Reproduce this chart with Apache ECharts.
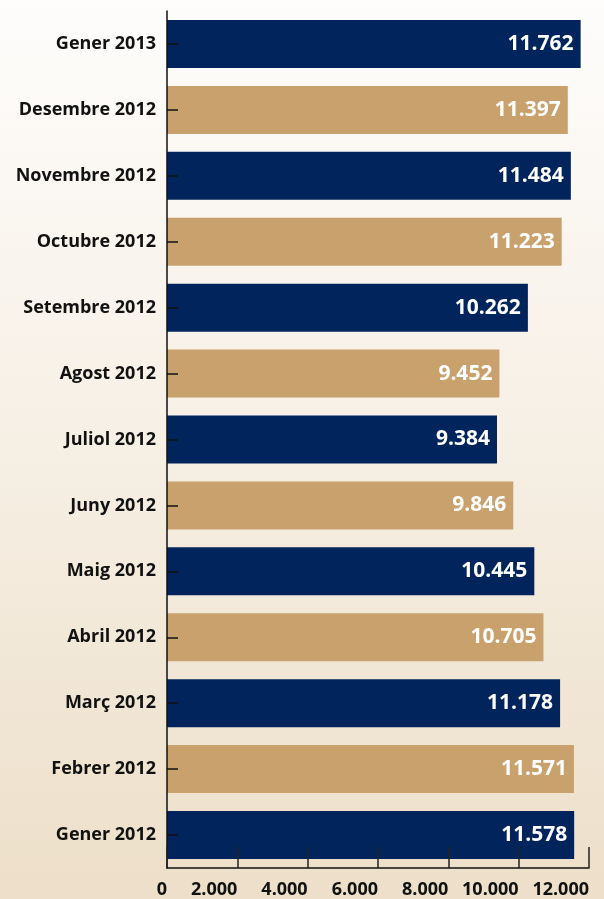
<!DOCTYPE html>
<html>
<head>
<meta charset="utf-8">
<script src="https://cdn.jsdelivr.net/npm/echarts@6/dist/echarts.min.js"></script>
<style>
  html, body { margin: 0; padding: 0; }
  #chart { width: 604px; height: 899px; }
</style>
</head>
<body>
<div id="chart"></div>
<script>
// mesos, de dalt a baix
const months = [
  "Gener 2013", "Desembre 2012", "Novembre 2012", "Octubre 2012",
  "Setembre 2012", "Agost 2012", "Juliol 2012", "Juny 2012",
  "Maig 2012", "Abril 2012", "Març 2012", "Febrer 2012", "Gener 2012"
];
const values = [
  11762, 11397, 11484, 11223, 10262, 9452, 9384, 9846,
  10445, 10705, 11178, 11571, 11578
];
const xTicks = [0, 2000, 4000, 6000, 8000, 10000, 12000];

const NAVY = "#00245b";
const TAN = "#c9a16d";
const FONT = "'Open Sans', 'DejaVu Sans', sans-serif";

// 11762 -> "11.762"
function fmt(v) {
  return String(v).replace(/\B(?=(\d{3})+(?!\d))/g, ".");
}

const chart = echarts.init(document.getElementById("chart"));

chart.setOption({
  backgroundColor: {
    type: "linear", x: 0, y: 0, x2: 0, y2: 1,
    colorStops: [
      { offset: 0, color: "#fefdfc" },
      { offset: 0.5, color: "#f6efe4" },
      { offset: 1, color: "#eddfc9" }
    ]
  },
  animation: false,
  grid: { left: 167, right: 15, top: 11, bottom: 30 },
  xAxis: {
    type: "value",
    min: xTicks[0],
    max: xTicks[xTicks.length - 1],
    interval: xTicks[1] - xTicks[0],
    z: 5,
    splitLine: { show: false },
    axisLine: { show: true, lineStyle: { color: "#111", width: 1.5 } },
    axisTick: { show: true, inside: true, length: 21, lineStyle: { color: "#222", width: 1.5 } },
    axisLabel: {
      align: "right",
      margin: 13,
      fontFamily: FONT,
      fontWeight: "bold",
      fontSize: 18,
      color: "#111",
      formatter: (v) => fmt(v)
    }
  },
  yAxis: {
    type: "category",
    data: months,
    inverse: true,
    z: 5,
    axisLine: { show: true, lineStyle: { color: "#111", width: 1.5 } },
    axisTick: { show: true, inside: true, alignWithLabel: true, length: 11, lineStyle: { color: "#111", width: 1.5 } },
    axisLabel: {
      margin: 11,
      fontFamily: FONT,
      fontWeight: "bold",
      fontSize: 18,
      color: "#111"
    }
  },
  series: [{
    type: "bar",
    data: values,
    barWidth: 48,
    itemStyle: {
      color: (p) => (p.dataIndex % 2 === 0 ? NAVY : TAN)
    },
    label: {
      show: true,
      position: "insideRight",
      distance: 7,
      fontFamily: FONT,
      fontWeight: "bold",
      fontSize: 21,
      color: "#fff",
      formatter: (p) => fmt(p.value)
    }
  }]
});
</script>
</body>
</html>
